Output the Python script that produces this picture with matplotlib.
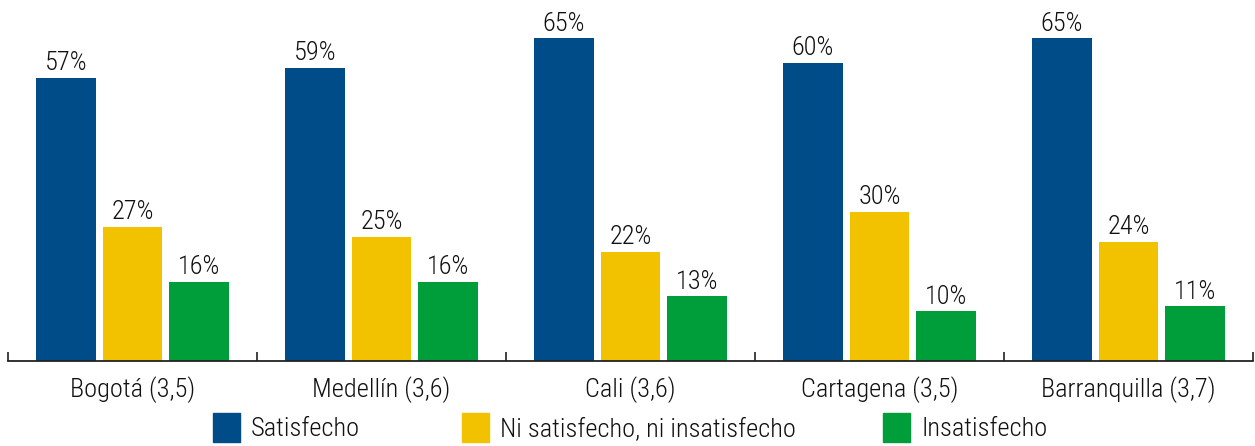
import numpy as np
import matplotlib.pyplot as plt
from matplotlib.patches import Patch

plt.rcParams['font.family'] = ['Roboto Condensed', 'DejaVu Sans']
plt.rcParams['font.weight'] = 'light'

ciudades = ['Bogotá (3,5)', 'Medellín (3,6)', 'Cali (3,6)', 'Cartagena (3,5)', 'Barranquilla (3,7)']
series = ['Satisfecho', 'Ni satisfecho, ni insatisfecho', 'Insatisfecho']
satisfecho = [57, 59, 65, 60, 65]
neutral = [27, 25, 22, 30, 24]
insatisfecho = [16, 16, 13, 10, 11]

colores = ['#004C89', '#F2C200', '#009E3A']
fs = 19

fig = plt.figure(figsize=(12.55, 4.46), dpi=100)
ax = fig.add_axes([8 / 1255, 85 / 446, 1245 / 1255, 347.5 / 446])

x = np.arange(len(ciudades))
offsets = [-0.267, 0, 0.267]
width = 0.24

for vals, off, col in zip([satisfecho, neutral, insatisfecho], offsets, colores):
    bars = ax.bar(x + off, vals, width, color=col)
    ax.bar_label(bars, labels=[f'{v}%' for v in vals], padding=2, fontsize=fs, color='#111111')

ax.set_xlim(-0.5, len(ciudades) - 0.5)
ax.set_ylim(0, 70)

for s in ['top', 'right', 'left']:
    ax.spines[s].set_visible(False)
ax.spines['bottom'].set_linewidth(1.3)
ax.spines['bottom'].set_color('#222222')
ax.set_yticks([])

ax.set_xticks(np.arange(len(ciudades) + 1) - 0.5)
ax.set_xticklabels([])
ax.tick_params(axis='x', which='major', direction='in', length=6.5, width=1.2, color='#222222')
ax.set_xticks(x, minor=True)
ax.set_xticklabels(ciudades, minor=True, fontsize=fs, color='#111111')
ax.tick_params(axis='x', which='minor', length=0, pad=11)

# leyenda, una entrada por posicion
pos_x = [189 / 1255, 438 / 1255, 859 / 1255]
for nombre, col, px in zip(series, colores, pos_x):
    fig.legend(handles=[Patch(color=col, label=nombre)], loc='lower left',
               bbox_to_anchor=(px, -0.044), frameon=False, fontsize=fs,
               handlelength=1.05, handleheight=1.3, handletextpad=0.4,
               labelcolor='#111111')

fig.savefig('out.png', dpi=100)
